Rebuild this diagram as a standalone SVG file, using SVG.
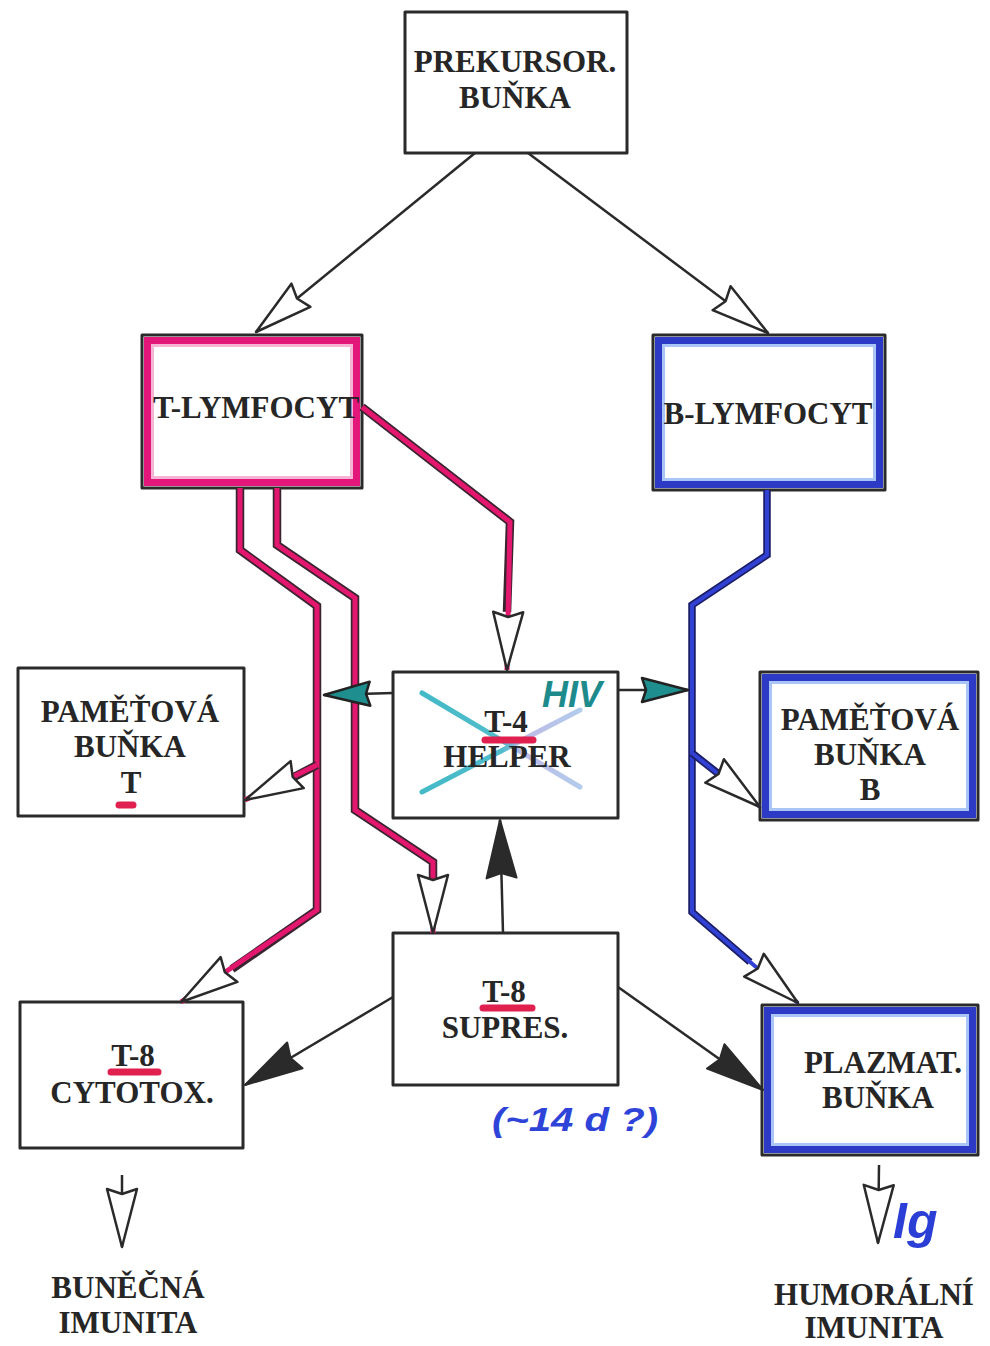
<svg xmlns="http://www.w3.org/2000/svg" width="990" height="1346" viewBox="0 0 990 1346">
<style>
.t{font-family:"Liberation Serif","Times New Roman",serif;font-weight:bold;font-size:31px;fill:#262626;text-anchor:middle}
.box{fill:#fff;stroke:#2a2a2a;stroke-width:3;stroke-linejoin:round}
.pinkband{fill:none;stroke:#e3167a;stroke-width:7}
.pinkin{fill:none;stroke:#f6b3d4;stroke-width:3}
.blueband{fill:none;stroke:#2d3ac6;stroke-width:7}
.bluein{fill:none;stroke:#a9c4f7;stroke-width:3}
.ln{fill:none;stroke:#2a2a2a;stroke-width:2.5;stroke-linejoin:round}
.pk0{fill:none;stroke:#3a2430;stroke-width:8.5;stroke-linejoin:miter}
.pk1{fill:none;stroke:#e4176f;stroke-width:5;stroke-linejoin:miter}
.bl0{fill:none;stroke:#1b1d66;stroke-width:7.5;stroke-linejoin:miter}
.bl1{fill:none;stroke:#3141d4;stroke-width:4;stroke-linejoin:miter}
.ul{stroke:#e0204f;stroke-width:7;stroke-linecap:round}
.hand{font-family:"Liberation Sans",Arial,sans-serif;font-weight:bold;font-style:italic}
</style>
<defs>
<marker id="open" markerUnits="userSpaceOnUse" viewBox="-3 -3 64 36" markerWidth="64" markerHeight="36" refX="58" refY="15" orient="auto" overflow="visible">
<path d="M0,0 L58,15 L0,30 L5,15 Z" fill="#fff" stroke="#2a2a2a" stroke-width="2.5" stroke-linejoin="round"/>
</marker>
<marker id="fill" markerUnits="userSpaceOnUse" viewBox="-3 -3 64 36" markerWidth="64" markerHeight="36" refX="58" refY="15" orient="auto" overflow="visible">
<path d="M0,0 L58,15 L0,30 L5,15 Z" fill="#2a2a2a" stroke="#2a2a2a" stroke-width="2" stroke-linejoin="round"/>
</marker>
<marker id="teal" markerUnits="userSpaceOnUse" viewBox="-3 -3 52 30" markerWidth="52" markerHeight="30" refX="46" refY="12" orient="auto" overflow="visible">
<path d="M0,0 L46,12 L0,24 L4,12 Z" fill="#1f8e8f" stroke="#222" stroke-width="2.5" stroke-linejoin="round"/>
</marker>
<linearGradient id="cross" gradientUnits="userSpaceOnUse" x1="420" y1="0" x2="585" y2="0">
<stop offset="0" stop-color="#2fb2c2"/>
<stop offset="0.5" stop-color="#3fb6c6"/>
<stop offset="0.62" stop-color="#b7b2e4"/>
<stop offset="1" stop-color="#a9c9ea"/>
</linearGradient>
</defs>

<g id="n-prekursor">
<rect class="box" x="405" y="12" width="222" height="141"/>
<text class="t" x="515" y="72">PREKURSOR.</text>
<text class="t" x="515" y="108">BUŇKA</text>
</g>

<g id="n-tlymfocyt">
<rect class="box" x="142" y="335" width="220" height="153"/>
<rect class="pinkband" x="147.5" y="340.5" width="209" height="142"/>
<rect class="pinkin" x="152.5" y="345.5" width="199" height="132"/>
<text class="t" x="256" y="418">T-LYMFOCYT</text>
</g>

<g id="n-blymfocyt">
<rect class="box" x="653" y="335" width="232" height="155"/>
<rect class="blueband" x="658.5" y="340.5" width="221" height="144"/>
<rect class="bluein" x="663.5" y="345.5" width="211" height="134"/>
<text class="t" x="768" y="424">B-LYMFOCYT</text>
</g>

<g id="n-pametova-t">
<rect class="box" x="18" y="668" width="226" height="148"/>
<text class="t" x="130" y="722">PAMĚŤOVÁ</text>
<text class="t" x="130" y="757">BUŇKA</text>
<text class="t" x="131" y="793">T</text>
<line class="ul" x1="119" y1="805" x2="133" y2="805"/>
</g>

<g id="n-t4-helper">
<rect class="box" x="393" y="672" width="225" height="146"/>
<line x1="422" y1="693" x2="580" y2="787" stroke="url(#cross)" stroke-width="5" stroke-linecap="round" opacity="0.9"/>
<line x1="422" y1="792" x2="580" y2="710" stroke="url(#cross)" stroke-width="5" stroke-linecap="round" opacity="0.9"/>
<text class="t" x="506" y="732">T-4</text>
<line class="ul" x1="485" y1="740" x2="533" y2="740"/>
<text class="t" x="507" y="767">HELPER</text>
<text class="hand" x="542" y="707" font-size="36" fill="#1d8a8c">HIV</text>
</g>

<g id="n-pametova-b">
<rect class="box" x="760" y="672" width="218" height="148"/>
<rect class="blueband" x="765.5" y="677.5" width="207" height="137"/>
<rect class="bluein" x="770.5" y="682.5" width="197" height="127"/>
<text class="t" x="870" y="730">PAMĚŤOVÁ</text>
<text class="t" x="870" y="765">BUŇKA</text>
<text class="t" x="870" y="800">B</text>
</g>

<g id="n-t8-supres">
<rect class="box" x="393" y="933" width="225" height="152"/>
<text class="t" x="504" y="1002">T-8</text>
<line class="ul" x1="483" y1="1008" x2="532" y2="1008"/>
<text class="t" x="505" y="1038">SUPRES.</text>
</g>

<g id="n-t8-cytotox">
<rect class="box" x="20" y="1002" width="223" height="146"/>
<text class="t" x="133" y="1066">T-8</text>
<line class="ul" x1="111" y1="1072" x2="158" y2="1072"/>
<text class="t" x="132" y="1103">CYTOTOX.</text>
</g>

<g id="n-plazmat">
<rect class="box" x="762" y="1005" width="216" height="150"/>
<rect class="blueband" x="767.5" y="1010.5" width="205" height="139"/>
<rect class="bluein" x="772.5" y="1015.5" width="195" height="129"/>
<text class="t" x="883" y="1073">PLAZMAT.</text>
<text class="t" x="878" y="1108">BUŇKA</text>
</g>

<g id="n-bunecna">
<text class="t" x="128" y="1298">BUNĚČNÁ</text>
<text class="t" x="128" y="1333">IMUNITA</text>
</g>

<g id="n-humoralni">
<text class="t" x="874" y="1305">HUMORÁLNÍ</text>
<text class="t" x="874" y="1338">IMUNITA</text>
</g>

<g id="connectors">
<path class="ln" d="M475,153 L256,332" marker-end="url(#open)"/>
<path class="ln" d="M528,153 L768,333" marker-end="url(#open)"/>

<path class="pk0" d="M362,407 L510,522 L507,612"/>
<path class="pk1" d="M362,407 L510,522 L507,670" marker-end="url(#open)"/>

<path class="pk0" d="M240,488 L240,550 L317,606 L317,910 L232,969"/>
<path class="pk1" d="M240,488 L240,550 L317,606 L317,910 L181,1002" marker-end="url(#open)"/>

<path class="pk0" d="M317,765 L294,777"/>
<path class="pk1" d="M317,765 L245,800" marker-end="url(#open)"/>

<path class="pk0" d="M277,488 L277,545 L355,598 L355,810 L433,862 L433,878"/>
<path class="pk1" d="M277,488 L277,545 L355,598 L355,810 L433,862 L433,933" marker-end="url(#open)"/>

<path class="bl0" d="M767,490 L767,555 L692,605 L692,912 L750,962"/>
<path class="bl1" d="M767,490 L767,555 L692,605 L692,912 L798,1003" marker-end="url(#open)"/>
<path class="bl0" d="M692,753 L720,775"/>
<path class="bl1" d="M692,753 L760,807" marker-end="url(#open)"/>

<path class="ln" d="M393,693 L324,695" marker-end="url(#teal)"/>
<path class="ln" d="M618,690 L688,690" marker-end="url(#teal)"/>

<path class="ln" d="M503,933 L500,820" marker-end="url(#fill)"/>
<path class="ln" d="M393,997 L245,1085" marker-end="url(#fill)"/>
<path class="ln" d="M618,987 L763,1090" marker-end="url(#fill)"/>

<path class="ln" d="M122,1175 L122,1247" marker-end="url(#open)"/>
<path class="ln" d="M879,1165 L878,1243" marker-end="url(#open)"/>
</g>

<g id="annotations">
<text class="hand" x="893" y="1238" font-size="50" fill="#2b3fd6">Ig</text>
<text class="hand" x="492" y="1131" font-size="34" fill="#2e44d8" textLength="166" lengthAdjust="spacingAndGlyphs">(~14 d ?)</text>
</g>
</svg>
